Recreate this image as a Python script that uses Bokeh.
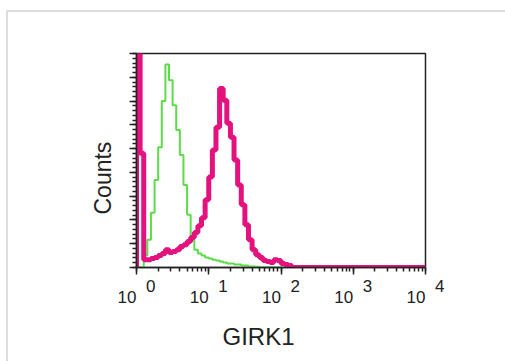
import numpy as np
from bokeh.plotting import figure
from bokeh.models import (Range1d, LogTicker, SingleIntervalTicker, LogAxis,
                          Title)
from bokeh.layouts import column
from bokeh.embed import file_html
from bokeh.resources import INLINE

# ---- data -------------------------------------------------------------
bin_width_decades = 0.05          # histogram channel width (log10 units)
n_bins = 80                       # 4 decades

# isotype control (green), counts per channel
green_counts = [0, 0, 5, 11.7, 23, 36.8, 50.6, 70, 85.4, 78.7, 68.2, 57.8,
                47.3, 34.7, 22.2, 11.7, 7.5, 5.9, 5.0, 4.2, 3.8, 3.3, 2.9,
                2.5, 2.1, 1.7, 1.7, 1.3, 1.3, 0.8, 0.8, 0.4, 0.4, 0.3]
# GIRK1 stained (magenta), counts per channel
girk1_counts = [100, 48, 3.3, 3.3, 3.8, 4.2, 5.0, 5.9, 7.5, 6.3, 6.7, 7.5,
                8.8, 9.6, 10.9, 12.6, 14.7, 17.6, 20.9, 28.5, 38.1, 49.4,
                59.0, 75.3, 70.3, 60.7, 54.8, 45.2, 34.7, 26.4, 18.0, 11.7,
                7.5, 5.4, 4.2, 2.9, 2.5, 2.1, 3.3, 2.9, 1.7, 1.3, 0.8]

x_ticks = [1, 10, 100, 1000, 10000]
x_tick_base = ["10", "10", "10", "10", "10"]
x_tick_exp = ["0", "1", "2", "3", "4"]
x_title = "GIRK1"
y_title = "Counts"

GREEN = "#5cdc48"
MAGENTA = "#e3127e"
AXIS = "#222222"
TEXT = "#222222"
FONT = "Liberation Sans"
PAD = "\u2007"   # figure space (digit-wide), used to offset tick label parts


def stairs(counts):
    c = list(counts) + [0.0] * (n_bins - len(counts))
    edges = 10 ** (np.arange(n_bins + 1) * bin_width_decades)
    xs = [edges[0]] + list(edges[:-1]) + [edges[-1]]
    ys = [0.0] + c + [c[-1]]
    return xs, ys


# ---- figure -----------------------------------------------------------
p = figure(width=497, height=349, output_backend="svg", toolbar_location=None,
           x_axis_type="log", x_range=Range1d(1, 10000), y_range=Range1d(0, 90),
           min_border_left=128, min_border_right=80, min_border_top=41,
           min_border_bottom=93, background_fill_color="white",
           border_fill_color="white")
p.grid.visible = False
p.outline_line_color = AXIS
p.outline_line_width = 1.5

gx, gy = stairs(green_counts)
mx, my = stairs(girk1_counts)
p.step(gx, gy, mode="after", line_color=GREEN, line_width=2)
p.step(mx, my, mode="after", line_color=MAGENTA, line_width=5)

for ax in (p.xaxis[0], p.yaxis[0]):
    ax.axis_line_color = AXIS
    ax.axis_line_width = 1.5
    ax.major_tick_line_color = AXIS
    ax.minor_tick_line_color = AXIS
    ax.major_tick_line_width = 1.5
    ax.minor_tick_line_width = 1.5
    ax.major_tick_in = 0
    ax.major_tick_out = 7
    ax.minor_tick_in = 0
    ax.minor_tick_out = 4

# y axis: no labels
p.yaxis[0].ticker = SingleIntervalTicker(interval=10, num_minor_ticks=5)
p.yaxis[0].major_label_text_color = None

# x axis: ticks + superscript exponents
xt = LogTicker(num_minor_ticks=10, mantissas=[1])
xa = p.xaxis[0]
xa.ticker = xt
xa.major_label_overrides = {t: PAD * 3 + e for t, e in zip(x_ticks, x_tick_exp)}
xa.major_label_text_font = FONT
xa.major_label_text_font_size = "17px"
xa.major_label_text_color = TEXT
xa.major_label_standoff = 2

# second bottom axis carrying the "10" base of each label
xb = LogAxis(ticker=xt, axis_line_color=None, major_tick_line_color=None,
             minor_tick_line_color=None, major_tick_out=0, major_tick_in=0,
             minor_tick_out=0, minor_tick_in=0, major_label_standoff=-11,
             major_label_text_font=FONT, major_label_text_font_size="17px",
             major_label_text_color=TEXT)
xb.major_label_overrides = {t: b + PAD * 2 for t, b in zip(x_ticks, x_tick_base)}
p.add_layout(xb, "below")

# axis titles
p.add_layout(Title(text=x_title, align="left", offset=86, standoff=23,
                   text_font=FONT, text_font_size="24px",
                   text_font_style="normal", text_color=TEXT), "below")
p.add_layout(Title(text=y_title, align="left", offset=53, standoff=27,
                   text_font=FONT, text_font_size="23px",
                   text_font_style="normal", text_color=TEXT), "left")

layout = column(p, styles={"margin-left": "6px", "margin-top": "10px",
                           "border-top": "2px solid #dddddd",
                           "border-left": "2px solid #dddddd"})

open("out.html", "w").write(file_html(layout, INLINE))
